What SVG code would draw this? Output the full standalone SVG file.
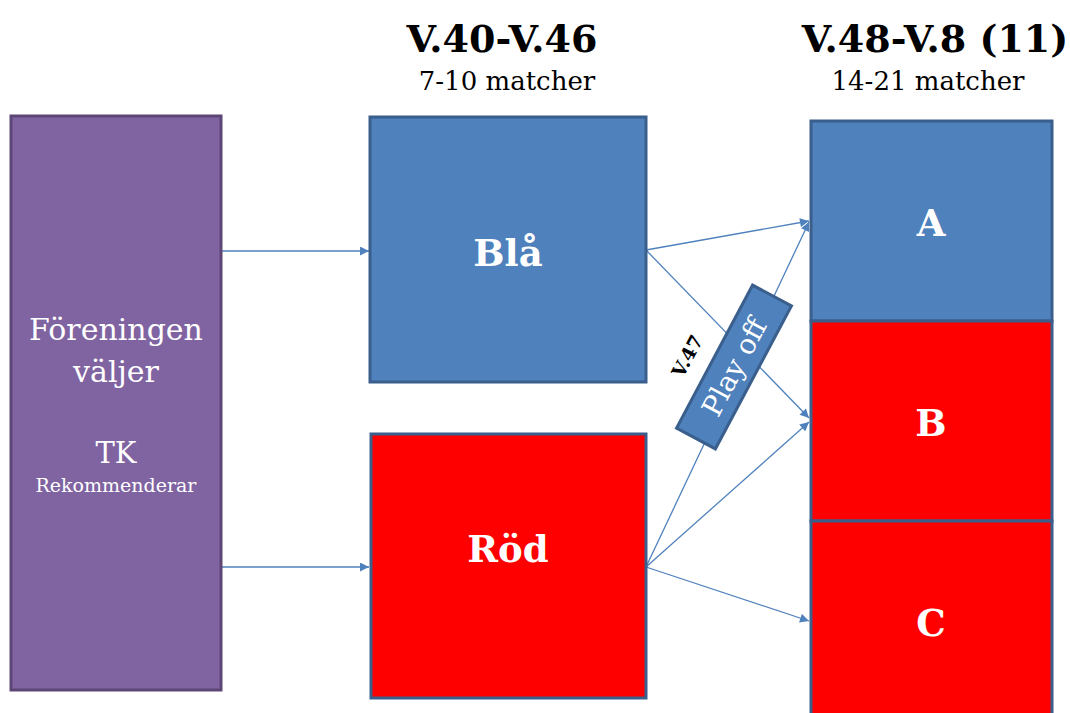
<svg xmlns="http://www.w3.org/2000/svg" width="1070" height="713" viewBox="0 0 1070 713">
<style>
.t{font-family:"DejaVu Serif","Liberation Serif",serif;text-anchor:middle}
.w{fill:#fff}
.k{fill:#000}
.b{font-weight:bold}
.blue{fill:#4F81BD;stroke:#3A5F8C;stroke-width:3}
.red{fill:#FF0000;stroke:#3A5F8C;stroke-width:3}
.conn line{stroke:#4F81BD;stroke-width:1.3;fill:none}
</style>
<defs>
<marker id="ah" viewBox="0 0 10 10" refX="10" refY="5" markerWidth="10" markerHeight="9" markerUnits="userSpaceOnUse" orient="auto">
<path d="M0,0 L10,5 L0,10 z" fill="#4F81BD"/>
</marker>
</defs>
<rect width="1070" height="713" fill="#fff"/>
<g id="headings">
<text class="t k b" x="502" y="52" font-size="38">V.40-V.46</text>
<text class="t k" x="507" y="90" font-size="26">7-10 matcher</text>
<text class="t k b" x="935" y="52" font-size="38">V.48-V.8 (11)</text>
<text class="t k" x="928" y="90" font-size="26">14-21 matcher</text>
</g>
<g class="conn" id="connectors">
<line x1="221" y1="251" x2="369" y2="251" marker-end="url(#ah)"/>
<line x1="221" y1="567" x2="369" y2="567" marker-end="url(#ah)"/>
<line x1="646" y1="250" x2="809" y2="221" marker-end="url(#ah)"/>
<line x1="646" y1="250" x2="809" y2="418" marker-end="url(#ah)"/>
<line x1="646" y1="567" x2="809" y2="222" marker-end="url(#ah)"/>
<line x1="646" y1="567" x2="809" y2="422" marker-end="url(#ah)"/>
<line x1="646" y1="567" x2="809" y2="621" marker-end="url(#ah)"/>
</g>
<g id="foreningen">
<rect x="11" y="116" width="210" height="574" fill="#8064A2" stroke="#5C4776" stroke-width="3"/>
<text class="t w" x="116" y="340" font-size="30">Föreningen</text>
<text class="t w" x="116" y="382" font-size="30">väljer</text>
<text class="t w" x="116" y="463" font-size="29">TK</text>
<text class="t w" x="116" y="492" font-size="19">Rekommenderar</text>
</g>
<g id="bla">
<rect class="blue" x="370" y="117" width="276" height="265"/>
<text class="t w b" x="508" y="266" font-size="37">Blå</text>
</g>
<g id="rod">
<rect class="red" x="371" y="434" width="275" height="264"/>
<text class="t w b" x="508" y="562" font-size="37">Röd</text>
</g>
<g id="a">
<rect class="blue" x="811" y="121" width="241" height="200"/>
<text class="t w b" x="931" y="236" font-size="37">A</text>
</g>
<g id="b">
<rect class="red" x="811" y="321" width="241" height="200"/>
<text class="t w b" x="931" y="436" font-size="37">B</text>
</g>
<g id="c">
<rect class="red" x="811" y="521" width="241" height="200"/>
<text class="t w b" x="931" y="636" font-size="37">C</text>
</g>
<g id="playoff" transform="translate(734,367) rotate(-62)">
<rect class="blue" x="-81" y="-22" width="162" height="44" stroke-width="2.5"/>
<text class="t w" x="0" y="10" font-size="28">Play off</text>
</g>
<g id="v47" transform="translate(687,356) rotate(-62)">
<text class="t k b" x="0" y="7" font-size="19">V.47</text>
</g>
</svg>
